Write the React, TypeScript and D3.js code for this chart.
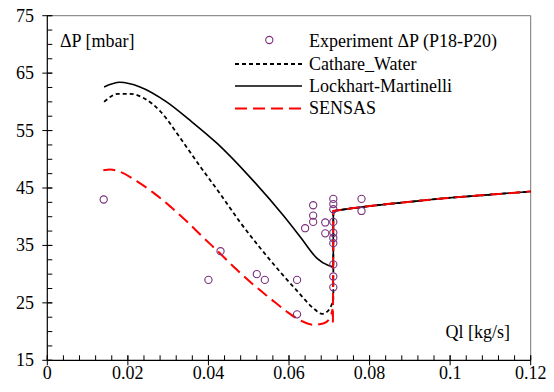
import React from 'react';
import * as d3 from 'd3';

const xTicks = [0, 0.02, 0.04, 0.06, 0.08, 0.1, 0.12];
const xTickLabels = ['0', '0.02', '0.04', '0.06', '0.08', '0.1', '0.12'];
const yTicks = [15, 25, 35, 45, 55, 65, 75];

const expX = [0.014, 0.040, 0.043, 0.052, 0.054, 0.062, 0.062, 0.064, 0.066, 0.066, 0.066, 0.069, 0.069,
  0.071, 0.071, 0.071, 0.071, 0.071, 0.071, 0.071, 0.071, 0.071, 0.071, 0.078, 0.078];
const expY = [43, 29, 34, 30, 29, 29, 23, 38, 42, 40.2, 39.1, 39, 37.1,
  43.1, 42.2, 41.3, 39.1, 37.2, 36.3, 35.4, 31.7, 29.6, 27.7, 43.1, 41.0];

// lower branches (before the jump at Ql ~ 0.071)
const cathareX = [0.0141, 0.0176, 0.0205, 0.0243, 0.0280, 0.0330, 0.0379, 0.0429, 0.0478, 0.0528, 0.0578, 0.0620, 0.0660, 0.0682, 0.0697, 0.0708];
const cathareY = [60.0, 61.4, 61.4, 60.5, 58.4, 53.7, 48.8, 44.0, 39.1, 34.6, 30.4, 27.1, 24.1, 23.1, 23.6, 25.0];

const lmX = [0.0141, 0.0180, 0.0230, 0.0296, 0.0354, 0.0421, 0.0503, 0.0586, 0.0630, 0.0669, 0.0698, 0.0709];
const lmY = [62.6, 63.4, 62.6, 60.0, 56.8, 52.8, 46.9, 40.2, 36.3, 32.8, 31.5, 31.3];

const sensasX = [0.0139, 0.0156, 0.0181, 0.0222, 0.0263, 0.0305, 0.0346, 0.0387, 0.0429, 0.0470, 0.0511, 0.0553, 0.0594, 0.0627, 0.0660, 0.0685, 0.0702, 0.0708];
const sensasY = [48.1, 48.2, 47.8, 46.2, 44.2, 41.8, 39.2, 36.4, 33.6, 30.8, 28.2, 25.8, 23.5, 22.0, 21.2, 21.4, 22.4, 23.9];

// shared upper branch (after the jump)
const upperX = [0.071, 0.072, 0.076, 0.080, 0.090, 0.100, 0.110, 0.120];
const upperY = [41.0, 41.1, 41.5, 41.85, 42.6, 43.3, 43.85, 44.4];

const legendLabels = ['Experiment \u0394P (P18-P20)', 'Cathare_Water', 'Lockhart-Martinelli', 'SENSAS'];

const FONT = 'Liberation Serif';

export default function App() {
  const W = 554, H = 392;
  const x = d3.scaleLinear().domain([0, 0.12]).range([47.3, 530.7]);
  const y = d3.scaleLinear().domain([15, 75]).range([360.3, 15.7]);

  const curve = d3.line<[number, number]>().x(d => x(d[0])).y(d => y(d[1])).curve(d3.curveMonotoneX);
  const upper: [number, number][] = upperX.map((v, i) => [v, upperY[i]]);
  const upperPath = (curve(upper) || '').replace(/^M/, 'L');

  const seriesPath = (xs: number[], ys: number[], extra: [number, number][] = []) => {
    const pts: [number, number][] = xs.map((v, i) => [v, ys[i]]);
    let p = curve(pts) || '';
    extra.forEach(e => { p += `L${x(e[0])},${y(e[1])}`; });
    return p + upperPath;
  };

  const lmPath = seriesPath(lmX, lmY, [[0.071, 31.5]]);
  const cathPath = seriesPath(cathareX, cathareY, [[0.071, 25.6]]);
  const sensPath = seriesPath(sensasX, sensasY, [[0.0709, 21.6]]);

  const xMinor = d3.range(0, 0.12 + 1e-9, 0.004);
  const yMinor = d3.range(15, 75 + 1e-9, 2.5);

  const x0 = x(0), x1 = x(0.12), y0 = y(15), y1 = y(75);

  const purple = '#7a2e7a';

  return (
    <svg width={W} height={H} style={{ position: 'absolute', left: 0, top: 0, background: '#fff' }}>
      <rect x={0} y={0} width={W} height={H} fill="#fff" />
      {/* frame */}
      <line x1={x0} x2={x1} y1={y1} y2={y1} stroke="#777" strokeWidth={1} />
      <line x1={x1} x2={x1} y1={y1} y2={y0} stroke="#777" strokeWidth={1} />

      {/* minor ticks */}
      {xMinor.map((t, i) => (
        <line key={'xm' + i} x1={x(t)} x2={x(t)} y1={y0} y2={y0 - 5} stroke="#000" strokeWidth={1} />
      ))}
      {yMinor.map((t, i) => (
        <line key={'ym' + i} x1={x0} x2={x0 + 5} y1={y(t)} y2={y(t)} stroke="#000" strokeWidth={1} />
      ))}
      {/* major ticks */}
      {xTicks.map((t, i) => (
        <line key={'xM' + i} x1={x(t)} x2={x(t)} y1={y0 + 5} y2={y0 - 5} stroke="#000" strokeWidth={1} />
      ))}
      {yTicks.map((t, i) => (
        <line key={'yM' + i} x1={x0 - 5} x2={x0 + 5} y1={y(t)} y2={y(t)} stroke="#000" strokeWidth={1} />
      ))}
      {/* axes */}
      <line x1={x0} x2={x0} y1={y1} y2={y0} stroke="#000" strokeWidth={1.2} />
      <line x1={x0} x2={x1} y1={y0} y2={y0} stroke="#000" strokeWidth={1.2} />

      {/* tick labels */}
      {xTicks.map((t, i) => (
        <text key={'xl' + i} x={x(t)} y={378.5} textAnchor="middle" fontFamily={FONT} fontSize={18} fill="#000">{xTickLabels[i]}</text>
      ))}
      {yTicks.map((t, i) => (
        <text key={'yl' + i} x={34} y={y(t) + 6} textAnchor="end" fontFamily={FONT} fontSize={18} fill="#000">{t}</text>
      ))}

      {/* axis titles */}
      <text x={60} y={47} fontFamily={FONT} fontSize={18} fill="#000">{'\u0394P [mbar]'}</text>
      <text x={510} y={338} textAnchor="end" fontFamily={FONT} fontSize={18} fill="#000">Ql [kg/s]</text>

      {/* series */}
      <path d={lmPath} fill="none" stroke="#000" strokeWidth={1.6} />
      <path d={cathPath} fill="none" stroke="#000" strokeWidth={1.8} strokeDasharray="4,3" />
      <path d={sensPath} fill="none" stroke="#ff0000" strokeWidth={2} strokeDasharray="12,6" />

      {/* experiment points */}
      {expX.map((v, i) => (
        <circle key={'p' + i} cx={x(v)} cy={y(expY[i])} r={3.6} fill="none" stroke={purple} strokeWidth={1.1} />
      ))}

      {/* legend */}
      <circle cx={269.3} cy={40} r={3.6} fill="none" stroke={purple} strokeWidth={1.1} />
      <line x1={235} x2={302} y1={64} y2={64} stroke="#000" strokeWidth={1.8} strokeDasharray="4,3" />
      <line x1={235} x2={302} y1={86} y2={86} stroke="#000" strokeWidth={1.6} />
      <line x1={235} x2={302} y1={108.5} y2={108.5} stroke="#ff0000" strokeWidth={2} strokeDasharray="12,6" />
      {legendLabels.map((l, i) => (
        <text key={'lg' + i} x={309} y={[46.7, 70, 91.7, 114.3][i]} fontFamily={FONT} fontSize={18} fill="#000">{l}</text>
      ))}
    </svg>
  );
}
